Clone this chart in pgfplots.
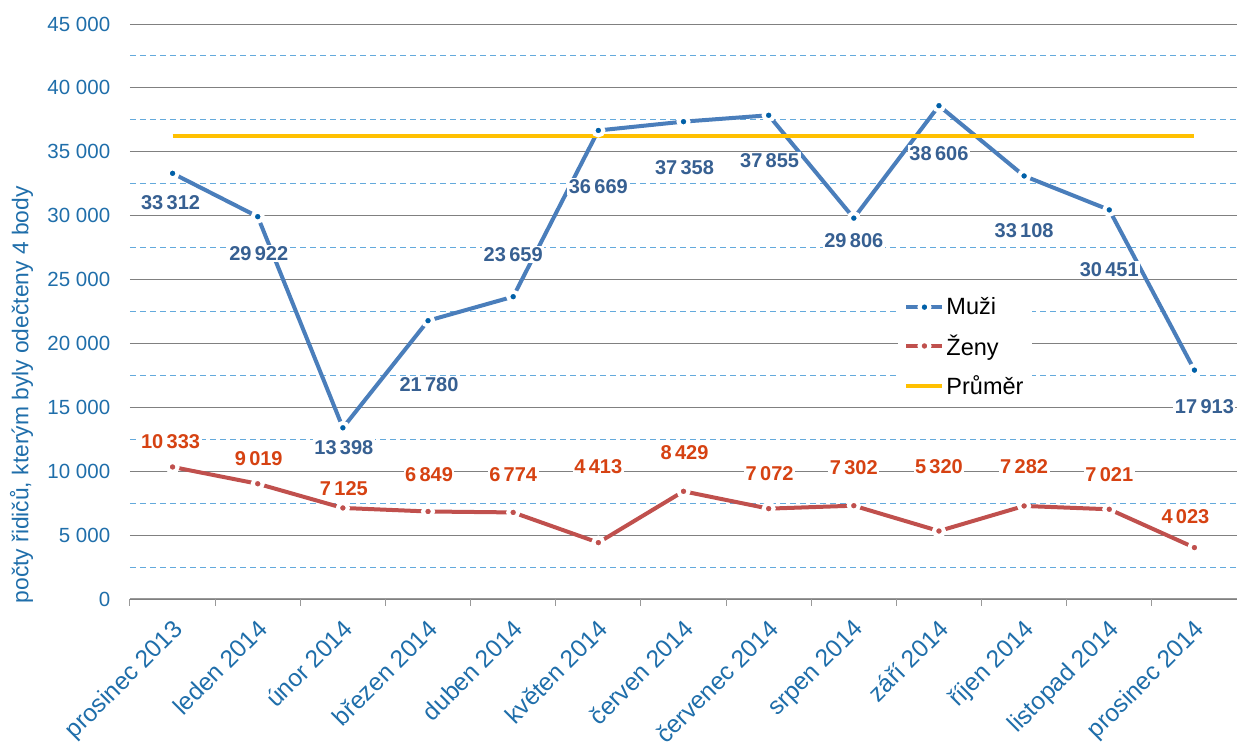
\documentclass[border=0pt]{standalone}
\usepackage{fontspec}
\setmainfont{Liberation Sans}
\usepackage{pgfplots}
\usepackage{pgfplotstable}
\pgfplotsset{compat=1.18}
\definecolor{tickblue}{RGB}{31,110,170}
\definecolor{muziline}{RGB}{74,126,187}
\definecolor{muzidot}{RGB}{0,96,168}
\definecolor{muzilab}{RGB}{55,96,146}
\definecolor{zenyline}{RGB}{192,80,77}
\definecolor{zenylab}{RGB}{214,66,18}
\definecolor{gold}{RGB}{255,192,0}
\definecolor{minorgrid}{RGB}{100,170,220}

\pgfplotstableread{
x y dx dy
0 33312 -2 -29
1 29922 1 -37
2 13398 1 -20
3 21780 1 -64
4 23659 0 42
5 36669 0 -56
6 37358 1 -46
7 37855 1 -45
8 29806 0 -22
9 38606 0 -48
10 33108 0 -55
11 30451 0 -60
12 17913 10 -37
}\muzi

\pgfplotstableread{
x y dx dy
0 10333 -2 25
1 9019 1 25
2 7125 1 19
3 6849 1 37
4 6774 0 38
5 4413 0 76
6 8429 1 39
7 7072 1 35
8 7302 0 38
9 5320 0 64
10 7282 0 39
11 7021 0 35
12 4023 -9 31
}\zeny

\begin{document}
\begin{tikzpicture}
\begin{axis}[
  scale only axis,
  width=1107pt, height=575pt,
  xmin=-0.5, xmax=12.5,
  ymin=0, ymax=45000,
  axis lines*=left,
  x axis line style={draw=gray!80, line width=1pt},
  y axis line style={draw=none},
  xtick={0,...,12},
  xticklabels={prosinec 2013, leden 2014, únor 2014, březen 2014, duben 2014, květen 2014, červen 2014, červenec 2014, srpen 2014, září 2014, říjen 2014, listopad 2014, prosinec 2014},
  major x tick style={draw=none},
  minor xtick={-0.5,0.5,...,12.5},
  minor x tick style={draw=gray!80, line width=1pt},
  tick align=outside,
  minor tick length=7pt,
  xticklabel style={rotate=45, anchor=north east, text=tickblue, font=\fontsize{24.5}{29}\selectfont, xshift=-8pt, yshift=-6pt},
  ytick={0,5000,...,45000},
  minor ytick={2500,7500,...,42500},
  ytick style={draw=none},
  scaled y ticks=false,
  yticklabel={\pgfmathprintnumber[fixed,precision=0,1000 sep={\ }]{\tick}},
  yticklabel style={text=tickblue, font=\fontsize{20.5}{24}\selectfont, xshift=-12pt},
  ymajorgrids, yminorgrids,
  major grid style={draw=gray, line width=0.9pt},
  minor grid style={draw=minorgrid, line width=1pt, dash pattern=on 6pt off 4pt},
  /pgf/number format/assume math mode=true,
  ylabel={počty řidičů, kterým byly odečteny 4 body},
  ylabel style={at={(axis description cs:-0.098,0.355)}, anchor=center, text=tickblue, font=\fontsize{22.8}{27}\selectfont},
  legend style={draw=none, fill=white, at={(0.694,0.538)}, anchor=north west, font=\fontsize{23.5}{28}\selectfont, row sep=14.5pt, inner xsep=6pt, inner ysep=6pt},
  legend cell align=left,
  legend image code/.code={\draw[mark repeat=2,mark phase=2] plot coordinates {(0pt,0pt) (18pt,0pt) (36pt,0pt)};},
]
\addplot[muziline, line width=4pt, mark=*, mark size=5pt, mark options={fill=muzidot, draw=white, line width=4pt}] table[x=x,y=y]{\muzi};
\addlegendentry{Muži}
\addplot[zenyline, line width=4pt, mark=*, mark size=5pt, mark options={fill=zenyline, draw=white, line width=4pt}] table[x=x,y=y]{\zeny};
\addlegendentry{Ženy}
\addplot[gold, line width=4pt, mark=none] coordinates {(0,36250) (12,36250)};
\addlegendentry{Průměr}
\addplot[draw=none, mark=none, forget plot, point meta=y,
  nodes near coords={\pgfmathprintnumber[fixed,precision=0,1000 sep={\,}]{\pgfplotspointmeta}},
  visualization depends on={\thisrow{dx}\as\mydx},
  visualization depends on={\thisrow{dy}\as\mydy},
  every node near coord/.append style={anchor=center, xshift=\mydx pt, yshift=\mydy pt, fill=white, inner sep=1.5pt, text=muzilab, font=\bfseries\fontsize{20}{24}\selectfont}]
  table[x=x,y=y]{\muzi};
\addplot[draw=none, mark=none, forget plot, point meta=y,
  nodes near coords={\pgfmathprintnumber[fixed,precision=0,1000 sep={\,}]{\pgfplotspointmeta}},
  visualization depends on={\thisrow{dx}\as\mydx},
  visualization depends on={\thisrow{dy}\as\mydy},
  every node near coord/.append style={anchor=center, xshift=\mydx pt, yshift=\mydy pt, fill=white, inner sep=1.5pt, text=zenylab, font=\bfseries\fontsize{20}{24}\selectfont}]
  table[x=x,y=y]{\zeny};
\end{axis}
\pgfresetboundingbox
\path[use as bounding box] ([xshift=-130pt,yshift=-143pt]current axis.south west) rectangle ([yshift=24pt]current axis.north east);
\end{tikzpicture}
\end{document}
